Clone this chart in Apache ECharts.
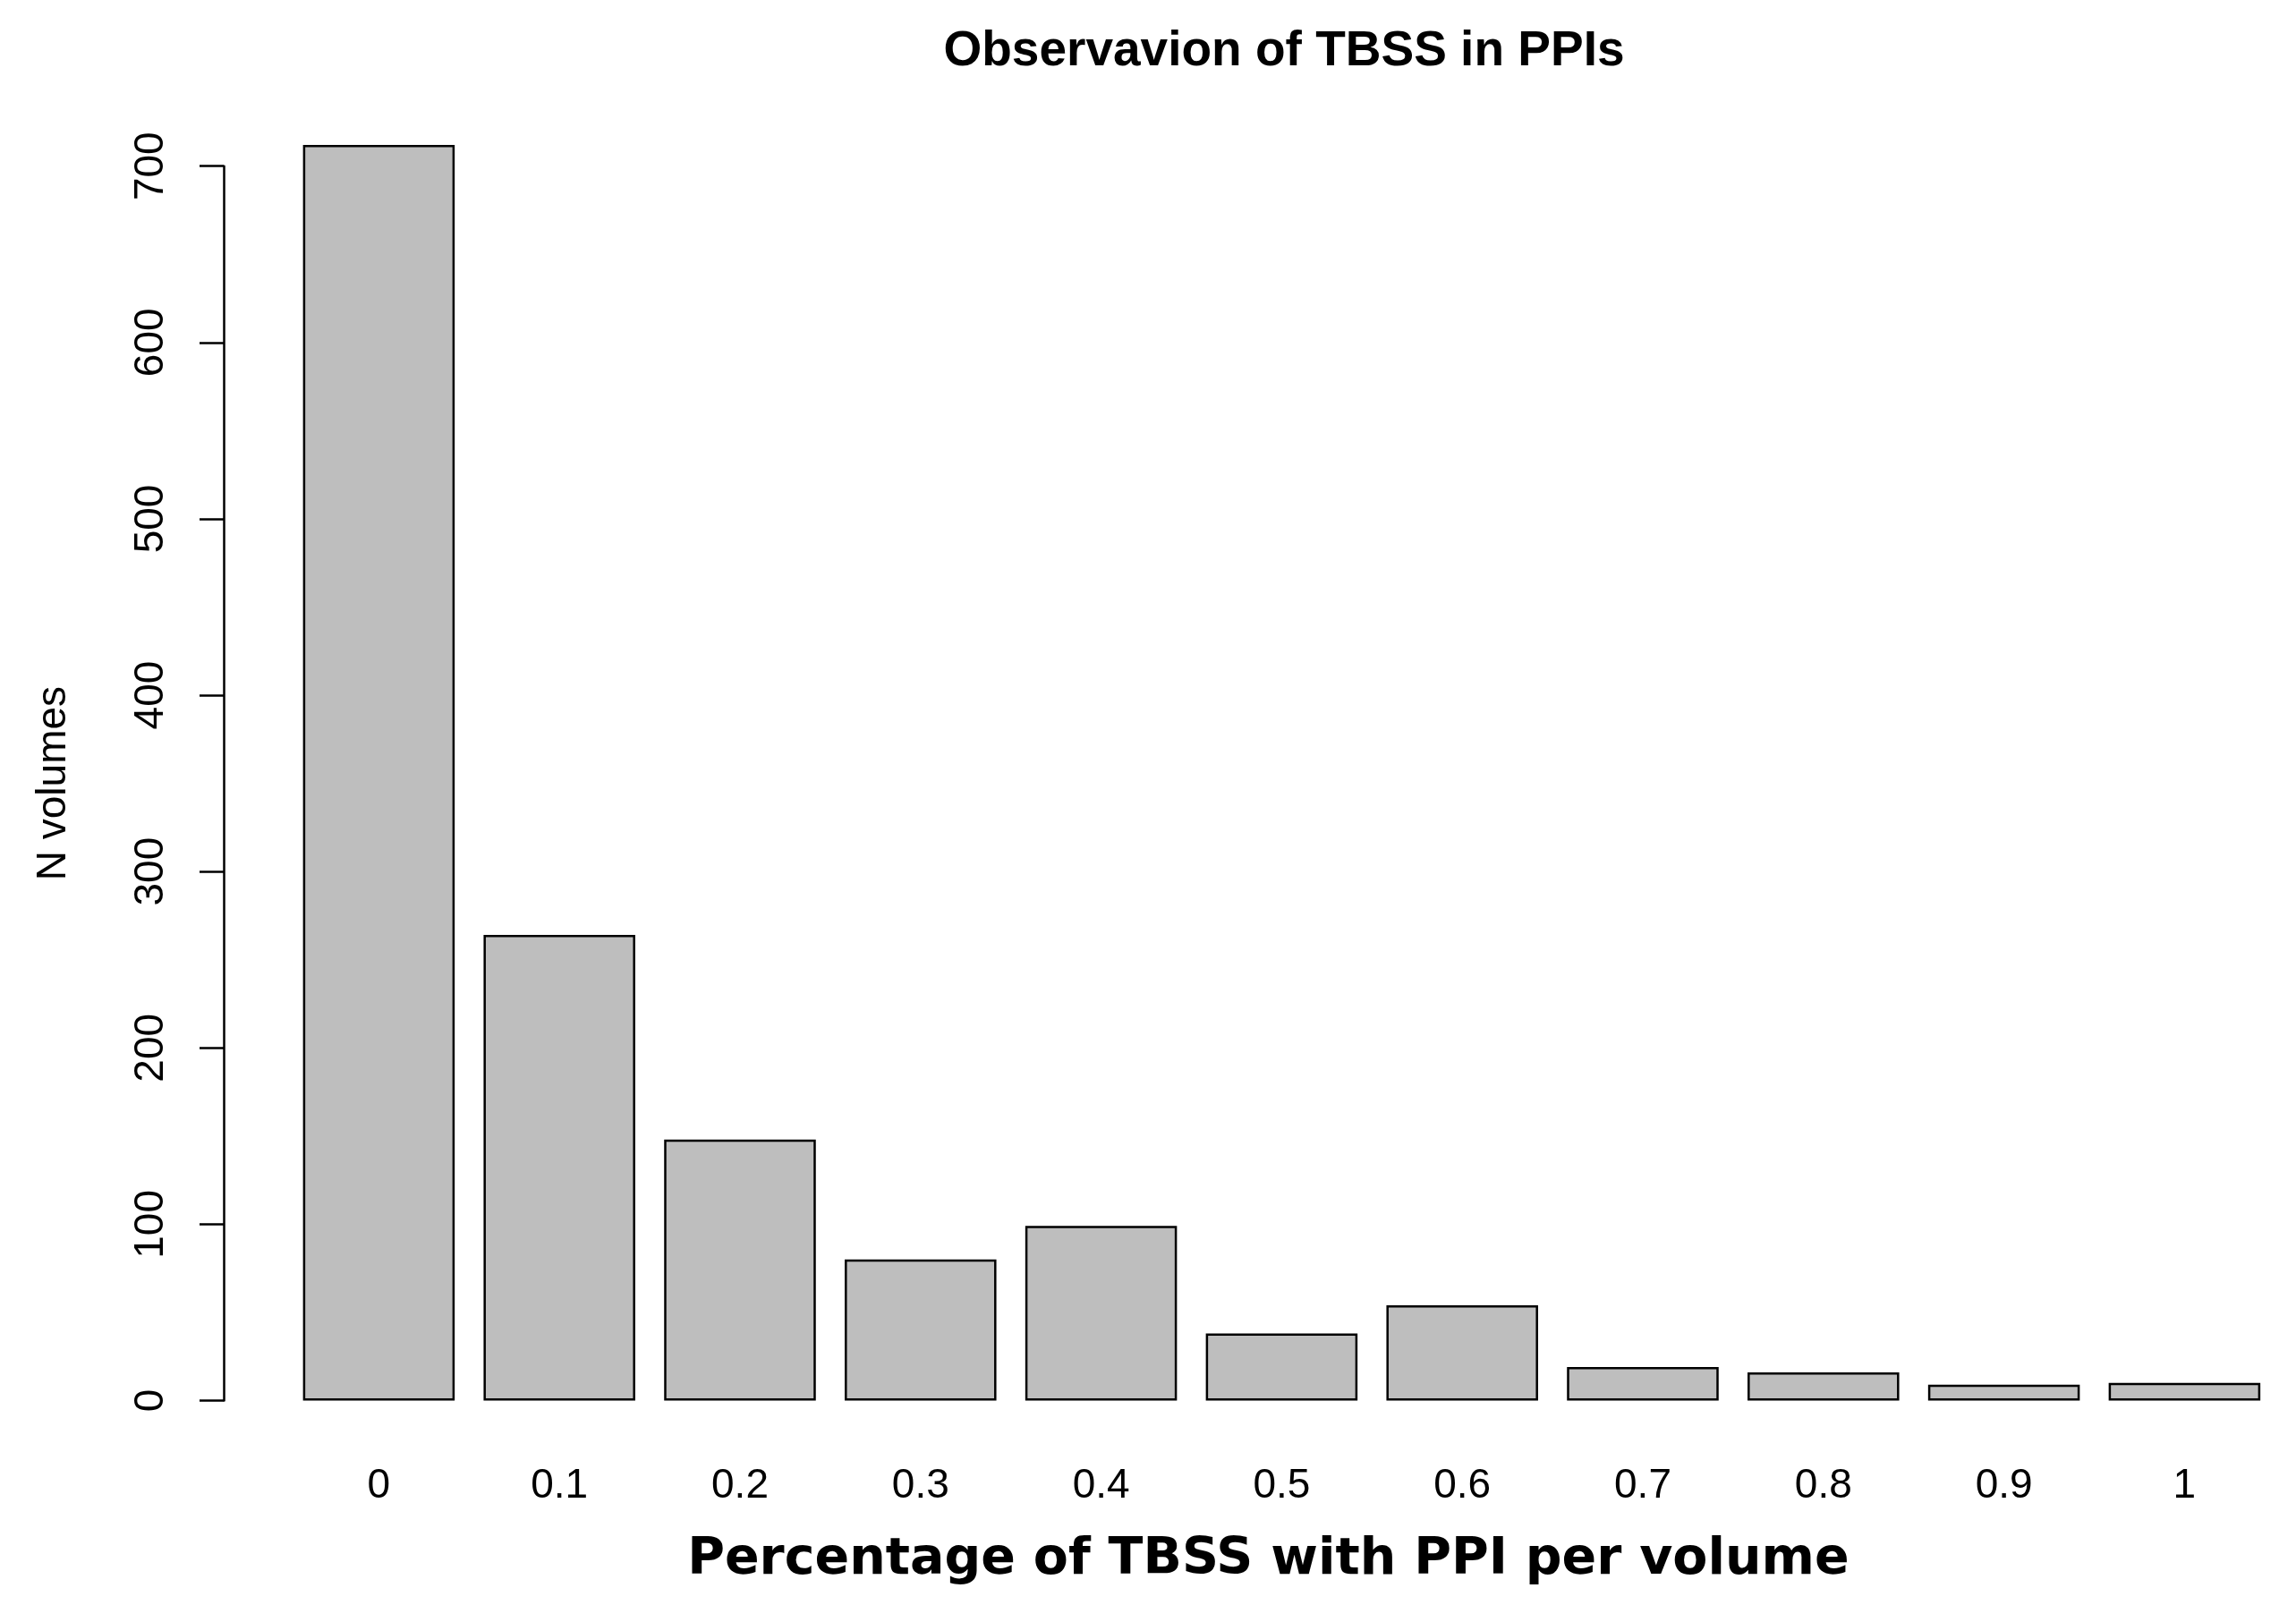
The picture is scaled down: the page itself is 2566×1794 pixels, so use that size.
<!DOCTYPE html>
<html>
<head>
<meta charset="utf-8">
<script src="https://cdn.jsdelivr.net/npm/echarts@6/dist/echarts.min.js"></script>
<style>
html,body{margin:0;padding:0;background:#fff;}
#chart{width:2566px;height:1794px;}
</style>
</head>
<body>
<div id="chart"></div>
<script>
var categories = ['0', '0.1', '0.2', '0.3', '0.4', '0.5', '0.6', '0.7', '0.8', '0.9', '1'];
var volumes = [712, 264, 148, 80, 99, 38, 54, 19, 16, 9, 10];
var yTicks = [0, 100, 200, 300, 400, 500, 600, 700];

var chart = echarts.init(document.getElementById('chart'), null, {renderer: 'canvas'});
chart.setOption({
  backgroundColor: '#ffffff',
  animation: false,
  title: {
    text: 'Observavion of TBSS in PPIs',
    left: 1430,
    top: 25,
    textAlign: 'center',
    textStyle: {fontFamily: 'Liberation Sans', fontWeight: 'bold', fontSize: 55, color: '#000'}
  },
  grid: {left: 322.5, right: 23.7, top: 185.7, bottom: 228.5, containLabel: false},
  xAxis: {
    type: 'category',
    data: categories,
    name: 'Percentage of TBSS with PPI per volume',
    nameLocation: 'middle',
    nameGap: 150,
    nameTextStyle: {fontFamily: 'DejaVu Sans', fontWeight: 'bold', fontSize: 57, color: '#000', padding: [0, 30, 0, 0]},
    axisLine: {show: false},
    axisTick: {show: false},
    axisLabel: {fontFamily: 'Liberation Sans', fontSize: 46, color: '#000', margin: 73}
  },
  yAxis: {
    type: 'value',
    min: yTicks[0],
    max: yTicks[yTicks.length - 1],
    interval: 100,
    offset: 72.5,
    name: 'N volumes',
    nameLocation: 'middle',
    nameGap: 167,
    nameTextStyle: {fontFamily: 'Liberation Sans', fontSize: 46, color: '#000'},
    axisLine: {show: true, lineStyle: {color: '#000', width: 2.5}},
    axisTick: {show: true, length: 27, lineStyle: {color: '#000', width: 2.5}},
    axisLabel: {rotate: 90, fontFamily: 'Liberation Sans', fontSize: 46, color: '#000', margin: 58},
    splitLine: {show: false}
  },
  series: [{
    type: 'bar',
    data: volumes,
    clip: false,
    barCategoryGap: '16%',
    itemStyle: {color: '#BEBEBE', borderColor: '#000', borderWidth: 2.5}
  }]
});
</script>
</body>
</html>
